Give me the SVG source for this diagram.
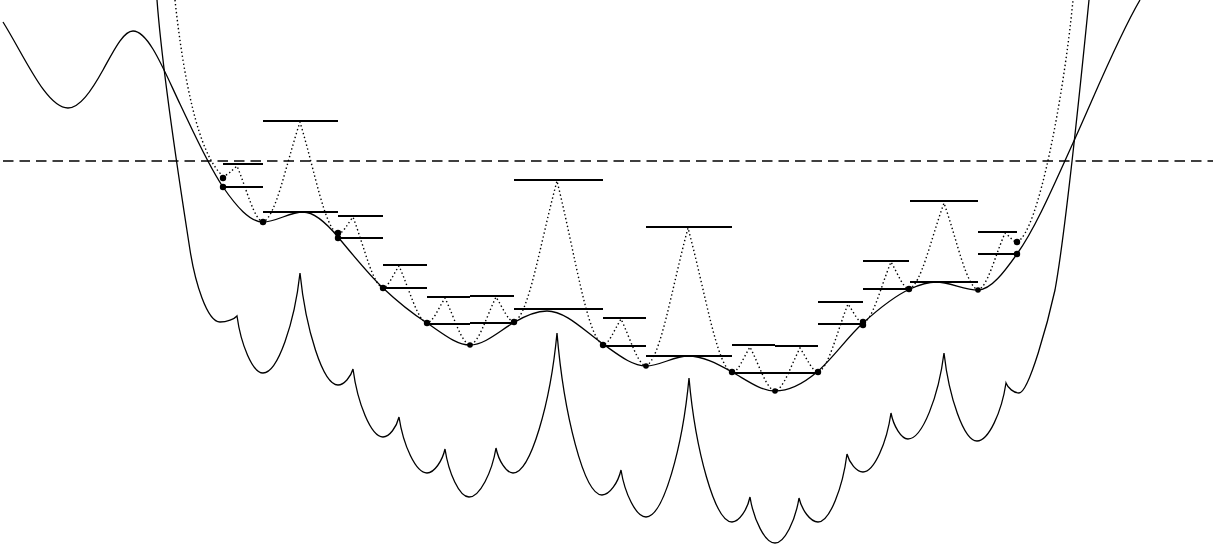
<svg xmlns="http://www.w3.org/2000/svg" width="1220" height="555" viewBox="0 0 1220 555">
<style>
.curve{fill:none;stroke:#000;stroke-width:1.3}
.dotted{fill:none;stroke:#000;stroke-width:1.4;stroke-dasharray:1.4,2.6}
.dash{fill:none;stroke:#000;stroke-width:1.3;stroke-dasharray:10.5,6}
.bar{stroke:#000;stroke-width:2.2}
.pt{fill:#000}
</style>
<rect width="1220" height="555" fill="#fff"/>
<g id="threshold">
<line class="dash" x1="3" y1="161" x2="1213" y2="161"/>
</g>
<g id="lower-curve">
<path class="curve" d="M157,0 C163,80 180,185 190,250 C195,282 207,322 220,322 C226.8,322 234.45,319 237,316 C240.9,344.5 252.6,373 263,373 C277.8,373 294.45,323 300,273 C305.7,329 322.8,385 338,385 C344,385 350.75,377 353,369 C357.5,403 371,437 383,437 C389.4,437 396.6,427 399,417 C403.2,445 415.8,473 427,473 C434.2,473 442.3,461 445,449 C448.6,473 459.4,497 469,497 C479.8,497 491.95,472.5 496,448 C498.55,460.5 506.2,473 513,473 C530.6,473 550.4,403 557,333 C563.75,414 584,495 602,495 C609.6,495 618.15,482.5 621,470 C624.75,493.5 636,517 646,517 C663.2,517 682.55,447.5 689,378 C695.45,450 714.8,522 732,522 C739.2,522 747.3,509.5 750,497 C753.75,520 765,543 775,543 C784.6,543 795.4,520.5 799,498 C801.85,510 810.4,522 818,522 C829.6,522 842.65,488 847,454 C849.4,463 856.6,472 863,472 C874.2,472 886.8,442.5 891,413 C893.55,426 901.2,439 908,439 C922.4,439 938.6,396 944,353 C948.95,397 963.8,441 977,441 C988.6,441 1001.65,412 1006,383 C1007.95,388 1013.8,393 1019,393 C1029,393 1048.4,320 1055,290 C1066,230 1083,60 1089,0"/>
</g>
<g id="main-curve">
<path class="curve" d="M3,22 C24.67,56.67 46.33,108 68,108 C79.67,108 91.33,91 103,70 C113,52 123,31 133,31 C148.67,31 164.33,71.1 180,104 C194.33,134.1 208.67,166.2 223,187 C236.33,206.3 249.67,222 263,222 C276.33,222 289.67,212 303,212 C314.67,212 326.33,223 338,237 C353,255 368,273.75 383,288 C397.67,301.9 412.33,313.5 427,323 C441.33,332.3 455.67,345 470,345 C484.33,345 498.67,331.6 513,323 C524.33,316.2 535.67,311 547,311 C565.67,311 584.33,330.9 603,344 C617.33,354 631.67,366 646,366 C660,366 674,356 688,356 C702.67,356 717.33,363.9 732,372 C746.33,379.9 760.67,391 775,391 C789,391 803,383.9 817,372 C832.33,359 847.67,336.8 863,323 C878.67,308.9 894.33,296.05 910,289 C918.67,285.1 927.33,282 936,282 C950,282 964,290 978,290 C991,290 1004,272.2 1017,254 C1035.67,227.9 1054.33,184.1 1073,143 C1095.33,93.9 1117.67,38 1140,0"/>
</g>
<g id="dotted-curve">
<path class="dotted" d="M175,0 C183,75 198,155 223,176 C227.9,175.5 231.4,170.5 237,166 C247.4,191.2 253.9,219.2 263,222 C275.95,217 285.2,167 300,122 C315.2,172.4 324.7,228.4 338,234 C343.25,233.15 347,224.65 353,217 C365,248.95 372.5,284.45 383,288 C388.6,286.85 392.6,275.35 399,266 C410.2,291.1 417.2,320.1 427,323 C433.3,321.75 437.8,309.25 445,298 C455,319.15 461.25,342.65 470,345 C479.1,342.6 485.6,318.6 496,297 C503.2,308.25 507.7,320.75 514,322 C529.05,314.95 539.8,244.45 557,181 C575.4,254.8 586.9,336.8 603,345 C609.3,343.7 613.8,330.7 621,319 C631,340.15 637.25,363.65 646,366 C660.7,359.1 671.2,290.1 688,228 C705.6,293.25 716.6,365.75 732,373 C738.3,371.7 742.8,358.7 750,347 C760,366.8 766.25,388.8 775,391 C783.75,388.85 790,367.35 800,348 C807.2,358.8 811.7,370.8 818,372 C828.5,368.6 836,334.6 848,304 C854,312.55 857.75,322.05 863,323 C872.8,319.95 879.8,289.45 891,262 C898.2,274.15 902.7,287.65 909,289 C921.25,284.7 930,241.7 944,203 C957.6,242.15 966.1,285.65 978,290 C987.45,287.1 994.2,258.1 1005,233 C1009.8,236.5 1012.8,241.5 1017,242 C1038,234 1064,95 1073,0"/>
</g>
<g id="bars">
<line class="bar" x1="223" y1="164" x2="263" y2="164"/><line class="bar" x1="223" y1="187" x2="263" y2="187"/>
<line class="bar" x1="263" y1="121" x2="338" y2="121"/><line class="bar" x1="263" y1="212" x2="338" y2="212"/>
<line class="bar" x1="338" y1="216" x2="383" y2="216"/><line class="bar" x1="338" y1="238" x2="383" y2="238"/>
<line class="bar" x1="383" y1="265" x2="427" y2="265"/><line class="bar" x1="383" y1="288" x2="427" y2="288"/>
<line class="bar" x1="427" y1="297" x2="470" y2="297"/><line class="bar" x1="427" y1="324" x2="470" y2="324"/>
<line class="bar" x1="470" y1="296" x2="514" y2="296"/><line class="bar" x1="470" y1="323" x2="514" y2="323"/>
<line class="bar" x1="514" y1="180" x2="603" y2="180"/><line class="bar" x1="514" y1="309" x2="603" y2="309"/>
<line class="bar" x1="603" y1="318" x2="646" y2="318"/><line class="bar" x1="603" y1="346" x2="646" y2="346"/>
<line class="bar" x1="646" y1="227" x2="732" y2="227"/><line class="bar" x1="646" y1="356" x2="732" y2="356"/>
<line class="bar" x1="732" y1="345" x2="775" y2="345"/><line class="bar" x1="732" y1="373" x2="775" y2="373"/>
<line class="bar" x1="775" y1="346" x2="818" y2="346"/><line class="bar" x1="775" y1="373" x2="818" y2="373"/>
<line class="bar" x1="818" y1="302" x2="863" y2="302"/><line class="bar" x1="818" y1="324" x2="863" y2="324"/>
<line class="bar" x1="863" y1="261" x2="909" y2="261"/><line class="bar" x1="863" y1="289" x2="909" y2="289"/>
<line class="bar" x1="910" y1="201" x2="978" y2="201"/><line class="bar" x1="910" y1="282" x2="978" y2="282"/>
<line class="bar" x1="978" y1="232" x2="1017" y2="232"/><line class="bar" x1="978" y1="254" x2="1017" y2="254"/>
</g>
<g id="points">
<circle class="pt" cx="223" cy="178" r="3.2"/><circle class="pt" cx="223" cy="187" r="3.2"/>
<circle class="pt" cx="263" cy="222" r="3.2"/>
<circle class="pt" cx="338" cy="233" r="3.2"/><circle class="pt" cx="338" cy="238" r="3.2"/>
<circle class="pt" cx="383" cy="288" r="3.2"/>
<circle class="pt" cx="427" cy="323" r="3.2"/>
<circle class="pt" cx="470" cy="345" r="2.8"/>
<circle class="pt" cx="514" cy="322" r="3.2"/>
<circle class="pt" cx="603" cy="345" r="3.2"/>
<circle class="pt" cx="646" cy="366" r="2.8"/>
<circle class="pt" cx="732" cy="372" r="3.2"/>
<circle class="pt" cx="775" cy="391" r="2.8"/>
<circle class="pt" cx="818" cy="372" r="3.2"/>
<circle class="pt" cx="863" cy="322" r="3.2"/><circle class="pt" cx="863" cy="325" r="3.2"/>
<circle class="pt" cx="909" cy="289" r="3.2"/>
<circle class="pt" cx="978" cy="290" r="2.8"/>
<circle class="pt" cx="1017" cy="242" r="3.2"/><circle class="pt" cx="1017" cy="254" r="3.2"/>
</g>
</svg>
